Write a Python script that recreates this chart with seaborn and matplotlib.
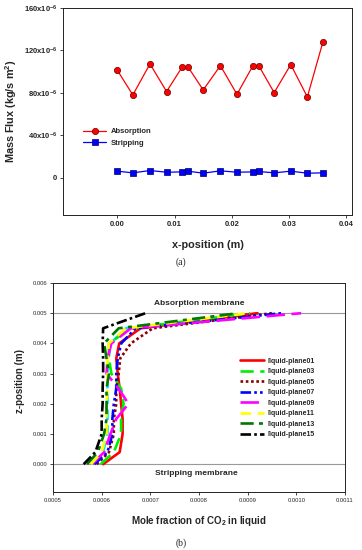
import numpy as np
import pandas as pd
import matplotlib
matplotlib.use("Agg")
import matplotlib.pyplot as plt
import seaborn as sns

sns.set_theme(style="white")
plt.rcParams['font.family'] = ['Liberation Sans', 'DejaVu Sans']
plt.rcParams['mathtext.fontset'] = 'custom'
plt.rcParams['mathtext.rm'] = 'Liberation Sans'
plt.rcParams['mathtext.bf'] = 'Liberation Sans:bold'
plt.rcParams['mathtext.it'] = 'Liberation Sans:italic'

# ---------- panel (a) data ----------
x_pos = [0.0000, 0.0027, 0.0057, 0.0086, 0.0113, 0.0123, 0.0150, 0.0180,
         0.0209, 0.0237, 0.0247, 0.0274, 0.0303, 0.0332, 0.0359]
absorption = [101.3, 78.1, 107.3, 81.3, 104.2, 104.8, 82.8, 105.7,
              78.7, 105.7, 105.7, 80.3, 106.7, 76.2, 127.7]   # x1e-6
stripping = [6.3, 4.7, 6.9, 5.3, 5.6, 6.3, 4.4, 6.6,
             5.3, 5.6, 6.0, 4.7, 6.3, 4.4, 4.7]               # x1e-6
ytick_vals_a = [0, 40, 80, 120, 160]
xtick_vals_a = [0.00, 0.01, 0.02, 0.03, 0.04]

# ---------- panel (b) data ----------
z_grid = [0, 0.0004, 0.001, 0.0015, 0.002, 0.0025, 0.003, 0.0035, 0.004, 0.0045, 0.005]
plane01 = [0.000603, 0.000637, 0.000643, 0.000643, 0.000640, 0.000637, 0.000633, 0.000630, 0.000636, 0.000680, 0.000920]
plane03 = [0.000598, 0.000625, 0.000640, 0.000640, 0.000645, 0.000640, 0.000620, 0.000615, 0.000615, 0.000660, 0.000905]
plane05 = [0.000590, 0.000615, 0.000625, 0.000625, 0.000630, 0.000630, 0.000635, 0.000638, 0.000660, 0.000705, 0.000950]
plane07 = [0.000585, 0.000612, 0.000622, 0.000622, 0.000625, 0.000630, 0.000630, 0.000633, 0.000640, 0.000670, 0.000970]
plane09 = [0.000580, 0.000605, 0.000618, 0.000630, 0.000655, 0.000635, 0.000610, 0.000612, 0.000620, 0.000660, 0.001010]
plane11 = [0.000578, 0.000600, 0.000610, 0.000610, 0.000610, 0.000612, 0.000612, 0.000612, 0.000615, 0.000650, 0.000900]
plane13 = [0.000570, 0.000592, 0.000605, 0.000610, 0.000610, 0.000610, 0.000615, 0.000610, 0.000605, 0.000635, 0.000880]
plane15 = [0.000563, 0.000587, 0.000600, 0.000600, 0.000602, 0.000602, 0.000603, 0.000603, 0.000602, 0.000603, 0.000690]
extra_cyan = [0.000585, 0.000603, 0.000612, 0.000612, 0.000612, 0.000612, 0.000612, 0.000614, 0.000618, 0.000650, 0.000930]
xtick_vals_b = [0.0005, 0.0006, 0.0007, 0.0008, 0.0009, 0.0010, 0.0011]
ytick_vals_b = [0.000, 0.001, 0.002, 0.003, 0.004, 0.005, 0.006]

W, H = 362, 550
fig = plt.figure(figsize=(W / 100, H / 100), dpi=100)

def frac(l, t, r, b):
    return [l / W, 1 - b / H, (r - l) / W, (b - t) / H]

# ===== panel (a) =====
ax1 = fig.add_axes(frac(63, 8, 352, 215))
dfa = pd.DataFrame({"x": x_pos, "abs": np.array(absorption) * 1e-6,
                    "str": np.array(stripping) * 1e-6})
sns.lineplot(data=dfa, x="x", y="abs", ax=ax1, color="red", marker="o",
             markersize=4.5, markeredgecolor="#600000", markeredgewidth=0.5,
             linewidth=0.9, label="Absorption", sort=False, estimator=None)
sns.lineplot(data=dfa, x="x", y="str", ax=ax1, color="blue", marker="s",
             markersize=4, markeredgecolor="#000060", markeredgewidth=0.5,
             linewidth=0.9, label="Stripping", sort=False, estimator=None)
ax1.set_xlim(-0.0095, 0.041)
ax1.set_ylim(-35e-6, 160e-6)
ax1.set_xticks(xtick_vals_a)
ax1.set_xticklabels([f"{v:.2f}" for v in xtick_vals_a], fontsize=5.5, fontweight="bold")
ax1.set_yticks([v * 1e-6 for v in ytick_vals_a])
ax1.set_yticklabels(["0" if v == 0 else f"{v}x10$^{{\\mathbf{{-6}}}}$" for v in ytick_vals_a],
                    fontsize=5.5, fontweight="bold")
ax1.set_xlabel("x-position (m)", fontsize=7.8, fontweight="bold", labelpad=9)
ax1.set_ylabel(r"Mass Flux (kg/s m$^{\mathbf{2}}$)", fontsize=7.8, fontweight="bold")
ax1.yaxis.set_label_coords(-0.153, 0.5)
ax1.tick_params(axis="both", direction="out", length=2, width=0.6, pad=2,
                bottom=True, left=True)
for s in ax1.spines.values():
    s.set_linewidth(0.7)
    s.set_color("#222222")
ax1.legend(loc="upper left", bbox_to_anchor=(0.06, 0.435), frameon=False,
           handlelength=3, borderaxespad=0, handletextpad=0.6,
           labelspacing=0.55, prop={"weight": "bold", "size": 5.5})
fig.text(0.5, 1 - 262 / H, "(a)", ha="center", va="center", fontsize=7,
         family="Liberation Serif")

# ===== panel (b) =====
ax2 = fig.add_axes(frac(53, 283, 345, 492))
ax2.axhline(0.005, color="#999999", linewidth=0.8, zorder=0)
ax2.axhline(0.000, color="#999999", linewidth=0.8, zorder=0)

series_b = [
    ("liquid-plane01", plane01, "#ff0000", "-"),
    ("liquid-plane03", plane03, "#00ee00", (0, (5, 2.5))),
    ("liquid-plane05", plane05, "#8b0000", (0, (1, 1))),
    ("liquid-plane07", plane07, "#0000ff", (0, (4, 1.2, 1, 1.2, 1, 1.2))),
    ("liquid-plane09", plane09, "#ff00ff", (0, (7, 2.5))),
    ("liquid-plane11", plane11, "#ffff00", (0, (4, 2.5))),
    ("liquid-plane13", plane13, "#007700", (0, (5, 2, 1.5, 2))),
    ("liquid-plane15", plane15, "#000000", (0, (4, 1.2, 1, 1.2))),
]
sns.lineplot(x=extra_cyan, y=z_grid, ax=ax2, color="#00e5ff", linewidth=1.9,
             linestyle=(0, (4, 2)), sort=False, estimator=None, legend=False)
for name, vals, col, ls in series_b:
    sns.lineplot(x=vals, y=z_grid, ax=ax2, color=col, linewidth=1.9, linestyle=ls,
                 sort=False, estimator=None, label=name)

ax2.set_xlim(0.0005, 0.0011)
ax2.set_ylim(-0.00092, 0.006)
ax2.set_xticks(xtick_vals_b)
ax2.set_xticklabels([f"{v:.4f}" for v in xtick_vals_b], fontsize=4.2)
ax2.set_yticks(ytick_vals_b)
ax2.set_yticklabels([f"{v:.3f}" for v in ytick_vals_b], fontsize=4.2)
ax2.set_xlabel(r"Mole fraction of CO$_{\mathbf{2}}$ in liquid", fontsize=7,
               fontweight="bold", labelpad=8)
ax2.set_ylabel("z-position (m)", fontsize=7, fontweight="bold")
ax2.yaxis.set_label_coords(-0.097, 0.53)
ax2.tick_params(axis="both", direction="out", length=2, width=0.6, pad=2,
                bottom=True, left=True)
for s in ax2.spines.values():
    s.set_linewidth(0.7)
    s.set_color("#222222")
ax2.text(0.0008, 0.0052, "Absorption membrane", ha="center", va="bottom",
         fontsize=6, fontweight="bold")
ax2.text(0.000795, -0.00032, "Stripping membrane", ha="center", va="center",
         fontsize=6, fontweight="bold")
ax2.legend(loc="upper left", bbox_to_anchor=(0.63, 0.655), frameon=False,
           handlelength=3.5, borderaxespad=0, handletextpad=0.5,
           labelspacing=0.5, prop={"weight": "bold", "size": 5})
fig.text(0.5, 1 - 543 / H, "(b)", ha="center", va="center", fontsize=7,
         family="Liberation Serif")

fig.savefig("out.png", dpi=100, facecolor="white")
